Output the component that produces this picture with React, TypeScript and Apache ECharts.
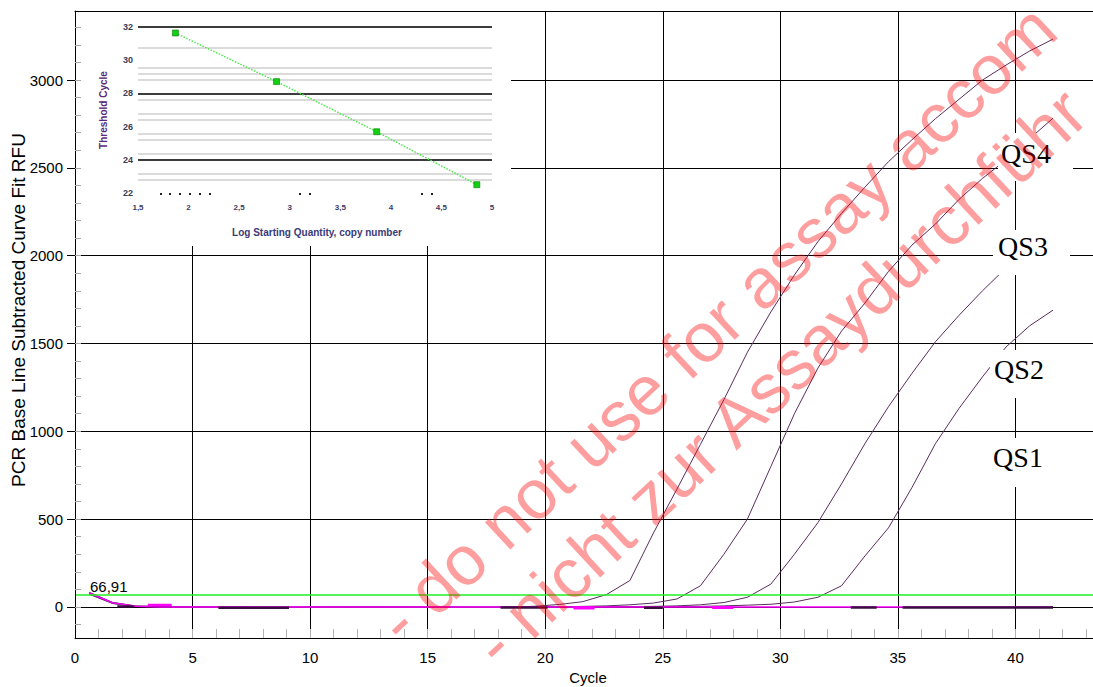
import React, { useEffect, useRef } from "react";
import * as echarts from "echarts";

// ---------- main amplification plot data ----------
const cycles = [
  0.6, 1.6, 2.6, 3.6, 4.6, 5.6, 6.6, 7.6, 8.6, 9.6, 10.6, 11.6, 12.6, 13.6,
  14.6, 15.6, 16.6, 17.6, 18.6, 19.6, 20.6, 21.6, 22.6, 23.6, 24.6, 25.6, 26.6,
  27.6, 28.6, 29.6, 30.6, 31.6, 32.6, 33.6, 34.6, 35.6, 36.6, 37.6, 38.6, 39.6,
  40.6, 41.6,
];
const qs4 = [
  84, 26, 5, 3, 1, 0, -2, -3, -3, -1, -1, 0, 0, -1, -1, -2, -2, -1, -2, 4, 14,
  30, 70, 150, 420, 670, 925, 1180, 1450, 1680, 1890, 2080, 2240, 2390, 2535,
  2660, 2780, 2890, 3000, 3085, 3165, 3233,
];
const qs3 = [
  80, 24, 4, 2, 1, 0, -1, -2, -2, -1, 0, 0, -1, -1, -1, -1, -2, -2, -1, 0, 1, 3,
  6, 12, 22, 45, 120, 300, 500, 800, 1100, 1360, 1570, 1730, 1910, 2060, 2180,
  2320, 2440, 2545, 2665, 2783,
];
const qs2 = [
  76, 21, 3, 1, 0, 0, -1, -1, -2, -2, -1, 0, 0, -1, -1, -1, -1, -2, -2, -1, 0, 0,
  1, 2, 3, 6, 12, 25, 55, 130, 300, 480, 700, 930, 1140, 1330, 1510, 1660, 1800,
  1930, 2040, 2130,
];
const qs1 = [
  72, 19, 2, 1, 0, 0, -1, -2, -2, -1, -1, 0, 0, 0, -1, -1, -1, -1, -1, 0, 0, 0,
  0, 1, 1, 2, 3, 6, 10, 15, 28, 55, 120, 290, 450, 680, 930, 1130, 1310, 1480,
  1600, 1690,
];
const ntc = [
  80, 23, 4, 0, 0, 0, 0, 0, 0, 0, 0, 0, 0, 0, 0, 0, 0, 0, 0, 0, 0, 0, 0, 0, 0,
  0, 0, 0, 0, 0, 0, 0, 0, 0, 0, 0, 0, 0, 0, 0, 0, 0,
];
const curveNames = ["QS1", "QS2", "QS3", "QS4"];
const threshold = 66.91;
const thresholdLabel = "66,91";
// overlapping baseline traces: [fromCycle, toCycle, value]
const darkSegments = [
  [1.8, 2.5, 3],
  [3.1, 4.1, 6],
  [6.1, 9.1, -5],
  [18.1, 20.1, -4],
  [24.2, 25.0, -5],
  [33.0, 34.1, -4],
  [35.2, 41.6, -4],
];
const magentaSegments = [
  [3.1, 4.1, 10],
  [21.2, 22.1, -6],
  [27.1, 28.0, -3],
];
const xTickLabels = [0, 5, 10, 15, 20, 25, 30, 35, 40];
const yTickLabels = [0, 500, 1000, 1500, 2000, 2500, 3000];
const xMinorTicks = Array.from({ length: 44 }, (_, i) => i);
const yMinorTicks = Array.from({ length: 35 }, (_, i) => -100 + i * 100);

// ---------- inset standard curve ----------
const stdLogQty = [1.87, 2.87, 3.86, 4.85];
const stdCt = [31.64, 28.71, 25.69, 22.5];
const insetXTicks = [1.5, 2, 2.5, 3, 3.5, 4, 4.5, 5];
const insetYTicks = [22, 24, 26, 28, 30, 32];
const insetMinorMarks = [1.72, 1.81, 1.91, 2.01, 2.11, 2.21, 3.1, 3.2, 4.31, 4.4];
const insetLightLines = [30.77, 29.56, 29.2, 28.8, 27.6, 26.76, 26.4, 25.55, 25.2, 24.35, 23.13, 22.77];
const insetDarkLines = [32, 27.96, 23.98];

// watermark (visible part of the stamped text)
const wmLine1 = "- do not use for assay accom";
const wmLine2 = "- nicht zur Assaydurchführ";

const FONT = '"Liberation Sans", Arial, sans-serif';
const SERIF = '"Liberation Serif", "Times New Roman", serif';
const CURVE = "#5b2b60";
const MAGENTA = "#ff00ff";
const GREEN = "#22f022";

const X_MAX = 43.3;
const Y_MIN = -177;
const Y_MAX = 3393;

const WM_ANGLE = (43 * Math.PI) / 180;
const WM_SIZE = 70;

function measureWidth(text: string, size: number): number {
  const ctx = document.createElement("canvas").getContext("2d");
  if (!ctx) return text.length * size * 0.5;
  ctx.font = `${size}px ${FONT}`;
  return ctx.measureText(text).width;
}

function watermark(text: string, word: string, cx: number, cy: number) {
  const k = text.indexOf(word);
  const before = measureWidth(text.slice(0, k), WM_SIZE);
  const w = measureWidth(word, WM_SIZE);
  const d = before + w / 2;
  const dx = Math.cos(WM_ANGLE);
  const dy = -Math.sin(WM_ANGLE);
  return {
    type: "text",
    x: cx - d * dx,
    y: cy - d * dy,
    rotation: WM_ANGLE,
    z: 30,
    silent: true,
    style: {
      text,
      fill: "rgba(255,0,0,0.38)",
      fontSize: WM_SIZE,
      fontFamily: FONT,
      align: "left",
      textAlign: "left",
      verticalAlign: "middle",
      textVerticalAlign: "middle",
    },
  };
}

function labelBox(name: string, bx: number, by: number, bw: number, bh: number, tx: number, ty: number) {
  return [
    {
      type: "rect",
      shape: { x: bx, y: by, width: bw, height: bh },
      style: { fill: "#ffffff" },
      z: 20,
      silent: true,
    },
    {
      type: "text",
      x: tx,
      y: ty,
      z: 21,
      silent: true,
      style: {
        text: name,
        fill: "#000",
        fontSize: 28,
        fontFamily: SERIF,
        align: "center",
        textAlign: "center",
        verticalAlign: "middle",
        textVerticalAlign: "middle",
      },
    },
  ];
}

function txt(text: string, x: number, y: number, opts: any = {}) {
  return {
    type: "text",
    x,
    y,
    rotation: opts.rotation || 0,
    z: opts.z || 15,
    silent: true,
    style: {
      text,
      fill: opts.fill || "#000",
      fontSize: opts.fontSize || 15,
      fontFamily: FONT,
      fontWeight: opts.fontWeight || "normal",
      align: opts.align || "center",
      textAlign: opts.align || "center",
      verticalAlign: "middle",
      textVerticalAlign: "middle",
    },
  };
}

const plain = (v: number) => String(v);

export default function App() {
  const ref = useRef<HTMLDivElement>(null);

  useEffect(() => {
    if (!ref.current) return;
    const chart = echarts.init(ref.current, null, { renderer: "svg" });
    const pairs = (ys: number[]) => cycles.map((c, i) => [c, ys[i]]);
    const curves = [qs1, qs2, qs3, qs4];

    const series: any[] = [];
    curves.forEach((ys, i) =>
      series.push({
        type: "line",
        name: curveNames[i],
        xAxisIndex: 0,
        yAxisIndex: 0,
        data: pairs(ys),
        symbol: "none",
        silent: true,
        lineStyle: { color: CURVE, width: 1 },
        z: 2,
      })
    );
    series.push({
      type: "line",
      name: "NTC",
      xAxisIndex: 0,
      yAxisIndex: 0,
      data: pairs(ntc),
      symbol: "none",
      silent: true,
      lineStyle: { color: MAGENTA, width: 1.5 },
      z: 3,
      markLine: {
        silent: true,
        symbol: ["none", "none"],
        label: { show: false },
        lineStyle: { color: GREEN, width: 1.5, type: "solid" },
        data: [{ yAxis: threshold }],
        z: 4,
      },
    });
    darkSegments.forEach(([a, b, v]) =>
      series.push({
        type: "line",
        xAxisIndex: 0,
        yAxisIndex: 0,
        data: [[a, v], [b, v]],
        symbol: "none",
        silent: true,
        lineStyle: { color: "#3a0d40", width: 2.5 },
        z: 3.5,
      })
    );
    magentaSegments.forEach(([a, b, v]) =>
      series.push({
        type: "line",
        xAxisIndex: 0,
        yAxisIndex: 0,
        data: [[a, v], [b, v]],
        symbol: "none",
        silent: true,
        lineStyle: { color: MAGENTA, width: 3 },
        z: 3.6,
      })
    );
    // inset standard curve
    series.push({
      type: "line",
      xAxisIndex: 3,
      yAxisIndex: 3,
      data: stdLogQty.map((x, i) => [x, stdCt[i]]),
      symbol: "rect",
      symbolSize: 6,
      silent: true,
      itemStyle: { color: "#12d012", borderColor: "#0a7a0a", borderWidth: 0.6 },
      lineStyle: { color: "#4ee84e", width: 1.5, type: "dotted" },
      z: 11,
      markLine: {
        silent: true,
        symbol: ["none", "none"],
        label: { show: false },
        z: 10,
        data: [
          ...insetLightLines.map((v) => ({ yAxis: v, lineStyle: { color: "#cfcfcf", width: 1.5, type: "solid" } })),
          ...insetDarkLines.map((v) => ({ yAxis: v, lineStyle: { color: "#3c3c3c", width: 1.8, type: "solid" } })),
        ],
      },
    });

    const graphic: any[] = [
      {
        type: "rect",
        shape: { x: 76, y: 12, width: 435, height: 234 },
        style: { fill: "#ffffff" },
        z: 5,
        silent: true,
      },
      txt("Threshold Cycle", 103, 110, { rotation: Math.PI / 2, fontSize: 10, fontWeight: "bold", fill: "#5a2a78", z: 11 }),
      txt("Log Starting Quantity, copy number", 317, 232, { fontSize: 10, fontWeight: "bold", fill: "#3a3a78", z: 11 }),
      txt("PCR Base Line Subtracted Curve Fit RFU", 18, 310, { rotation: Math.PI / 2, fontSize: 19 }),
      txt("Cycle", 588, 677, { fontSize: 15 }),
      txt(thresholdLabel, 90, 586, { fontSize: 15, align: "left" }),
      ...labelBox(curveNames[3], 998, 133, 75, 48, 1026, 153),
      ...labelBox(curveNames[2], 993, 230, 77, 45, 1023, 246),
      ...labelBox(curveNames[1], 990, 350, 78, 48, 1019, 369),
      ...labelBox(curveNames[0], 990, 438, 76, 49, 1018, 457),
      watermark(wmLine1, "use", 617, 417),
      watermark(wmLine2, "zur", 673, 477),
    ];

    const option: any = {
      animation: false,
      backgroundColor: "#ffffff",
      textStyle: { fontFamily: FONT },
      grid: [
        { left: 75, right: 0, top: 11, bottom: 49, containLabel: false, outerBoundsMode: "none" },
        { left: 138, top: 27, width: 354, height: 166, containLabel: false, outerBoundsMode: "none" },
      ],
      xAxis: [
        {
          gridIndex: 0,
          type: "value",
          min: 0,
          max: X_MAX,
          position: "bottom",
          axisLine: { show: true, onZero: false, lineStyle: { color: "#000", width: 1 } },
          axisTick: { show: false, customValues: xTickLabels },
          axisLabel: { customValues: xTickLabels, formatter: plain, fontSize: 15, color: "#000", margin: 12, fontFamily: FONT },
          splitLine: { show: true, lineStyle: { color: "#000", width: 1 } },
          z: 0,
        },
        {
          gridIndex: 0,
          type: "value",
          min: 0,
          max: X_MAX,
          position: "bottom",
          axisLine: { show: false, onZero: false },
          axisTick: { show: true, inside: true, length: 9, customValues: xMinorTicks, lineStyle: { color: "#b4b4b4", width: 1 } },
          axisLabel: { show: false },
          splitLine: { show: false },
          z: 1,
        },
        {
          gridIndex: 0,
          type: "value",
          min: 0,
          max: X_MAX,
          position: "top",
          axisLine: { show: true, onZero: false, lineStyle: { color: "#000", width: 1 } },
          axisTick: { show: false },
          axisLabel: { show: false },
          splitLine: { show: false },
          z: 12,
        },
        {
          gridIndex: 1,
          type: "value",
          min: 1.5,
          max: 5,
          position: "bottom",
          axisLine: { show: false, onZero: false },
          axisTick: { show: true, inside: false, length: 2, customValues: insetMinorMarks, lineStyle: { color: "#222", width: 2 } },
          axisLabel: {
            customValues: insetXTicks,
            formatter: (v: number) => String(v).replace(".", ","),
            fontSize: 8,
            fontWeight: "bold",
            color: "#3b3b66",
            margin: 10,
            fontFamily: FONT,
          },
          splitLine: { show: false },
          z: 10,
        },
      ],
      yAxis: [
        {
          gridIndex: 0,
          type: "value",
          min: Y_MIN,
          max: Y_MAX,
          axisLine: { show: false, onZero: false },
          axisTick: { show: false, customValues: yTickLabels },
          axisLabel: { show: false, customValues: yTickLabels },
          splitLine: { show: true, lineStyle: { color: "#000", width: 1 } },
          z: 0,
        },
        {
          gridIndex: 0,
          type: "value",
          min: Y_MIN,
          max: Y_MAX,
          position: "left",
          axisLine: { show: true, onZero: false, lineStyle: { color: "#000", width: 1 } },
          axisTick: { show: true, inside: false, length: 8, customValues: yTickLabels, lineStyle: { color: "#000" } },
          axisLabel: { customValues: yTickLabels, formatter: plain, fontSize: 15, color: "#000", margin: 12, fontFamily: FONT },
          splitLine: { show: false },
          z: 12,
        },
        {
          gridIndex: 0,
          type: "value",
          min: Y_MIN,
          max: Y_MAX,
          position: "left",
          axisLine: { show: false, onZero: false },
          axisTick: { show: true, inside: true, length: 6, customValues: yMinorTicks, lineStyle: { color: "#a8a8a8" } },
          axisLabel: { show: false },
          splitLine: { show: false },
          z: 12,
        },
        {
          gridIndex: 1,
          type: "value",
          min: 22,
          max: 32,
          position: "left",
          axisLine: { show: false, onZero: false },
          axisTick: { show: false },
          axisLabel: {
            customValues: insetYTicks,
            formatter: plain,
            fontSize: 9,
            fontWeight: "bold",
            color: "#3b3b55",
            margin: 5,
            fontFamily: FONT,
          },
          splitLine: { show: false },
          z: 10,
        },
      ],
      series,
      graphic,
    };

    chart.setOption(option);
    return () => chart.dispose();
  }, []);

  return (
    <div
      ref={ref}
      style={{ position: "absolute", left: 0, top: 0, width: 1093, height: 687, background: "#fff" }}
    />
  );
}
